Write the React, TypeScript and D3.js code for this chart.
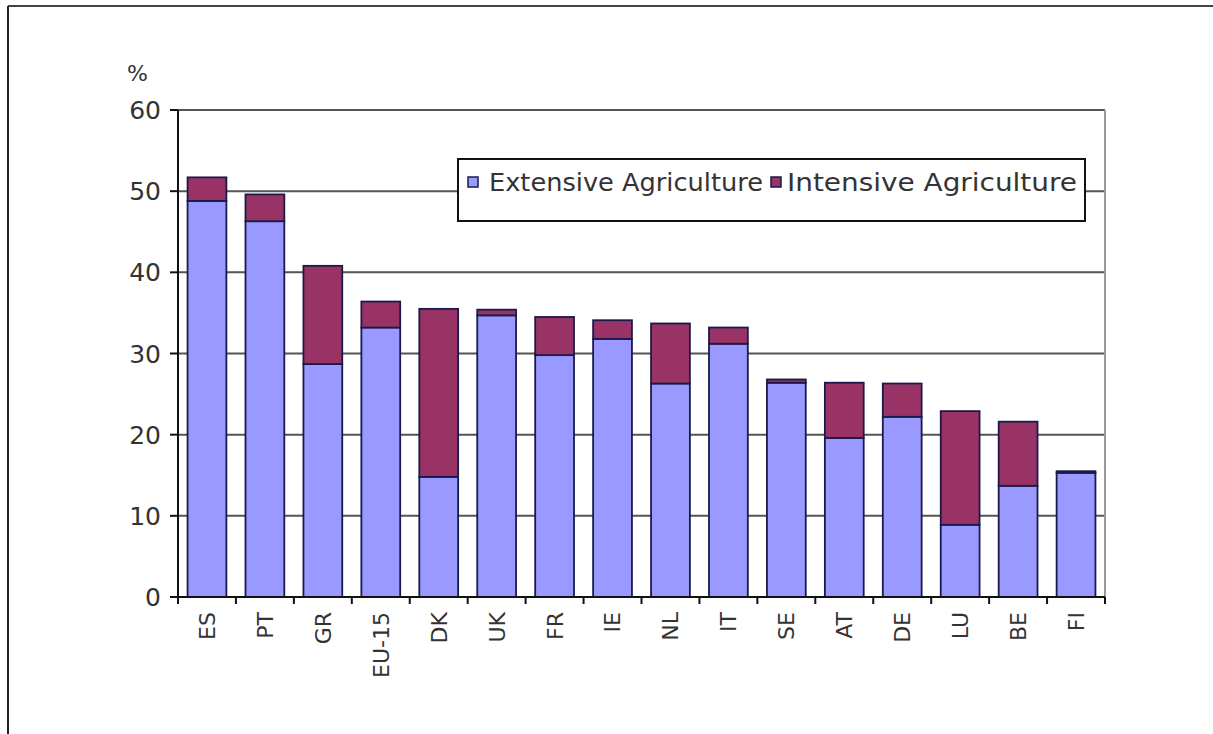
import React from "react";
import * as d3 from "d3";

const categories = ["ES", "PT", "GR", "EU-15", "DK", "UK", "FR", "IE", "NL", "IT", "SE", "AT", "DE", "LU", "BE", "FI"];
const extensive = [48.8, 46.3, 28.7, 33.2, 14.8, 34.7, 29.8, 31.8, 26.3, 31.2, 26.4, 19.6, 22.2, 8.9, 13.7, 15.3];
const intensive = [2.9, 3.3, 12.1, 3.2, 20.7, 0.7, 4.7, 2.3, 7.4, 2.0, 0.4, 6.8, 4.1, 14.0, 7.9, 0.2];
const seriesNames = ["Extensive Agriculture", "Intensive Agriculture"];
const seriesColors = ["#9999ff", "#993366"];
const yTicks = [0, 10, 20, 30, 40, 50, 60];

const W = 1213;
const H = 734;
const margin = { left: 178, right: 1105, top: 110, bottom: 597 };
const FONT = "'DejaVu Sans', Verdana, sans-serif";

export default function App() {
  const x = d3.scaleBand<string>().domain(categories).range([margin.left, margin.right]).paddingInner(0.33).paddingOuter(0.165);
  const y = d3.scaleLinear().domain([0, 60]).range([margin.bottom, margin.top]);
  const step = x.step();

  const rows = categories.map((c, i) => ({ c, ext: extensive[i], int: intensive[i] }));
  const stack = d3.stack<any>().keys(["ext", "int"])(rows as any);

  return (
    <div style={{ position: "absolute", left: 0, top: 0 }}>
      <svg width={W} height={H} style={{ display: "block", background: "#fff" }}>
        {/* outer frame */}
        <line x1={8} y1={6} x2={W} y2={6} stroke="#444" strokeWidth={2} />
        <line x1={8} y1={6} x2={8} y2={H} stroke="#222" strokeWidth={2} />

        {/* gridlines */}
        {yTicks.filter((t) => t > 0).map((t) => (
          <line key={t} x1={margin.left} x2={margin.right} y1={y(t)} y2={y(t)} stroke="#555" strokeWidth={2} />
        ))}
        <line x1={margin.right} x2={margin.right} y1={margin.top} y2={margin.bottom} stroke="#999" strokeWidth={2} />

        {/* stacked bars */}
        {stack.map((layer, li) =>
          layer.map((d, i) => (
            <rect
              key={`${li}-${i}`}
              x={x(categories[i])}
              y={y(d[1])}
              width={x.bandwidth()}
              height={y(d[0]) - y(d[1])}
              fill={seriesColors[li]}
              stroke="#1a1a4a"
              strokeWidth={1.8}
            />
          ))
        )}

        {/* y axis */}
        <line x1={margin.left} x2={margin.left} y1={margin.top} y2={margin.bottom + 6} stroke="#111" strokeWidth={2} />
        {yTicks.map((t) => (
          <g key={t}>
            <line x1={margin.left - 8} x2={margin.left} y1={y(t)} y2={y(t)} stroke="#111" strokeWidth={2} />
            <text x={161} y={y(t)} dy="0.36em" textAnchor="end" fontFamily={FONT} fontSize={25} fill="#333">
              {t}
            </text>
          </g>
        ))}
        <text x={127} y={81} fontFamily={FONT} fontSize={22} fill="#333">%</text>

        {/* x axis */}
        <line x1={margin.left} x2={margin.right} y1={margin.bottom} y2={margin.bottom} stroke="#111" strokeWidth={2} />
        {d3.range(categories.length + 1).map((k) => (
          <line key={k} x1={margin.left + k * step} x2={margin.left + k * step} y1={margin.bottom} y2={margin.bottom + 7} stroke="#111" strokeWidth={2} />
        ))}
        {categories.map((c) => {
          const cx = (x(c) as number) + x.bandwidth() / 2;
          return (
            <text key={c} transform={`translate(${cx},612) rotate(-90)`} dy="0.36em" textAnchor="end" fontFamily={FONT} fontSize={22} fill="#333">
              {c}
            </text>
          );
        })}

        {/* legend */}
        <rect x={458} y={159} width={627} height={62} fill="#fff" stroke="#111" strokeWidth={2} />
        <rect x={468} y={177} width={10} height={10} fill={seriesColors[0]} stroke="#1a1a4a" strokeWidth={1.5} />
        <text x={489} y={191} fontFamily={FONT} fontSize={24} fill="#333" textLength={274} lengthAdjust="spacingAndGlyphs">{seriesNames[0]}</text>
        <rect x={771} y={177} width={10} height={10} fill={seriesColors[1]} stroke="#1a1a4a" strokeWidth={1.5} />
        <text x={787} y={191} fontFamily={FONT} fontSize={24} fill="#333" textLength={290} lengthAdjust="spacingAndGlyphs">{seriesNames[1]}</text>
      </svg>
    </div>
  );
}
